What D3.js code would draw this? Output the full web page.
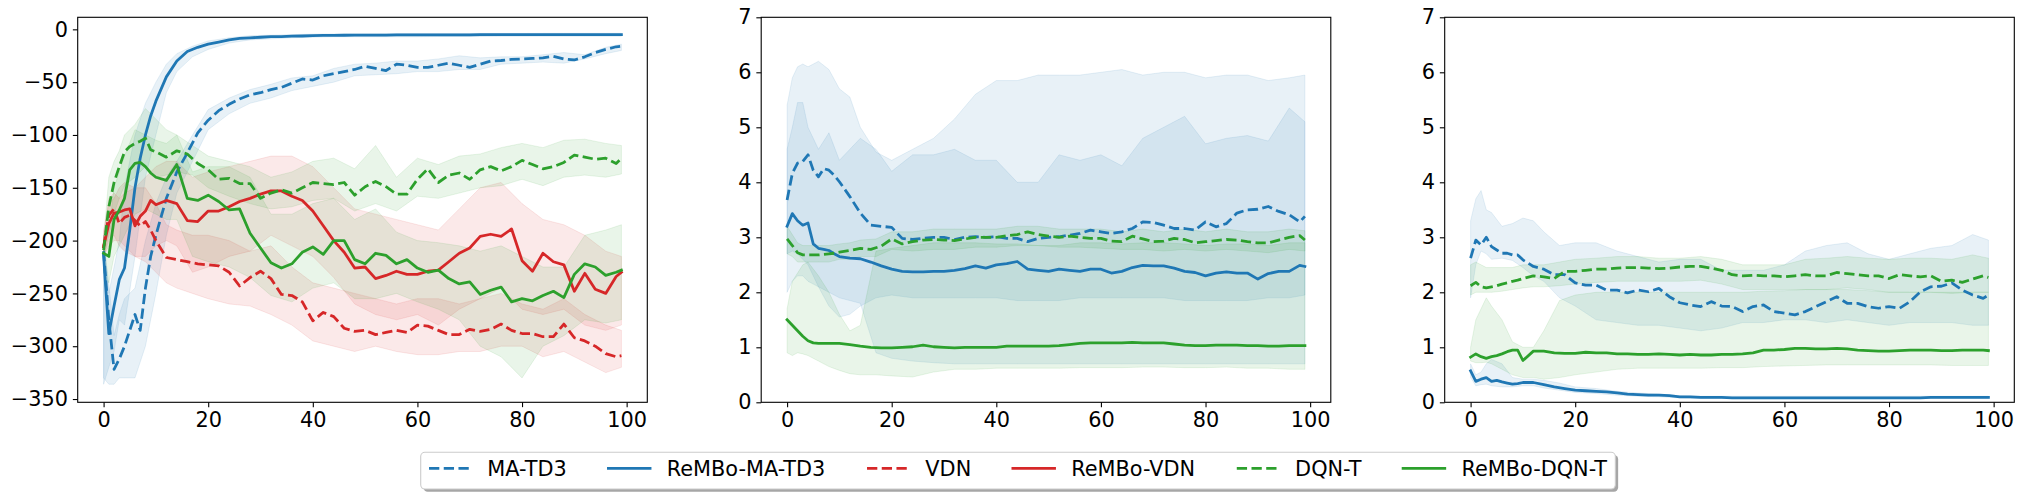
<!DOCTYPE html>
<html>
<head>
<meta charset="utf-8">
<script src="https://cdn.jsdelivr.net/npm/d3@7"></script>
<style>
  html, body { margin: 0; padding: 0; background: #fff; }
  svg text { font-family: "DejaVu Sans", sans-serif; }
</style>
</head>
<body>
<div id="vis"></div>
<script>
// ---- data ----
var seriesNames = ["MA-TD3", "ReMBo-MA-TD3", "VDN", "ReMBo-VDN", "DQN-T", "ReMBo-DQN-T"];

// training steps where the mean curves and the bands were read
var lineSteps = [0,1,2,3,4,5,6,7,8,9,10,
  12,14,16,18,20, 22,24,26,28,30, 32,34,36,38,40, 42,44,46,48,50,
  52,54,56,58,60, 62,64,66,68,70, 72,74,76,78,80, 82,84,86,88,90,
  92,94,96,98, 99];
var bandSteps = [0,1,2,3,4, 6,8,10,12,14, 17, 20,24,28,32,36, 40,44,48,52,56,
  60,64,68,72,76, 80,84,88,92,96, 99];

var xTicks = [0, 20, 40, 60, 80, 100];
var rewardTicks = [-350, -300, -250, -200, -150, -100, -50, 0];
var costTicks = [0, 1, 2, 3, 4, 5, 6, 7];

// panel 1 (reward)
var p1MaTd3 = [-210,-275,-322,-312,-300,-285,-270,-285,-245,-215,-195,
  -160,-135,-117,-98,-86, -77,-71,-66,-62,-60, -57,-55,-51,-47,-48, -44,-42,-40,-38,-35,
  -37,-39,-33,-34,-36, -36,-34,-32,-34,-36, -33,-30,-29.5,-28.5,-28, -27.5,-27,-25.5,-28,-29,
  -26,-22,-19,-16.5, -16];
var p1RmMaTd3 = [-214,-288,-262,-237,-226,-190,-150,-122,-100,-82,-68,
  -45,-30,-21,-17,-14, -12,-10,-8.5,-8,-7.5, -7,-6.8,-6.5,-6.3,-6, -5.8,-5.7,-5.6,-5.5,-5.5,
  -5.4,-5.4,-5.3,-5.3,-5.3, -5.2,-5.2,-5.2,-5.2,-5.2, -5.1,-5.1,-5.1,-5.1,-5.1, -5.1,-5,-5,-5,-5,
  -5,-5,-5,-5, -5];
var p1Vdn = [-206,-176,-170,-184,-178,-176,-181,-186,-182,-190,-200,
  -216,-218,-220,-222,-223, -224,-230,-243,-235,-229, -236,-251,-252,-258,-276, -268,-272,-283,-286,-285,
  -289,-287,-285,-287,-280, -281,-285,-289,-289,-284, -286,-284,-279,-285,-288, -288,-291,-291,-279,-292,
  -295,-300,-307,-310, -309];
var p1RmVdn = [-206,-184,-174,-173,-171,-170,-186,-177,-172,-162,-166,
  -162,-165,-181,-182,-172, -172,-168,-163,-160,-156, -153,-153,-158,-162,-172, -186,-200,-211,-226,-225,
  -236,-233,-229,-232,-232, -229,-228,-220,-212,-207, -196,-194,-196,-189,-219, -229,-212,-220,-223,-248,
  -231,-246,-250,-234, -230];
var p1Dqn = [-209,-168,-145,-130,-116,-111,-108,-106,-103,-114,-116,
  -121,-115,-118,-127,-133, -142,-141,-146,-146,-160, -155,-152,-155,-150,-145, -146,-147,-145,-157,-149,
  -144,-149,-156,-156,-142, -132,-145,-138,-136,-142, -133,-130,-134,-130,-124, -128,-132,-130,-126,-119,
  -121,-123,-122,-127, -122];
var p1RmDqn = [-212,-215,-180,-171,-160,-133,-127,-126,-130,-136,-140,
  -143,-128,-160,-162,-157, -163,-171,-170,-193,-207, -221,-226,-222,-211,-206, -213,-200,-200,-218,-222,
  -212,-214,-222,-218,-226, -230,-228,-236,-241,-239, -251,-247,-244,-258,-255, -257,-252,-248,-254,-232,
  -222,-225,-233,-230, -228];

var p1MaTd3Lo = [-330,-336,-336,-330,-330, -330,-300,-250,-195,-155, -125, -95,-80,-70,-65,-58, -54,-50,-44,-43,-42,
  -40,-40,-38,-38,-33, -32,-31,-32,-28,-23, -20];
var p1MaTd3Hi = [-200,-240,-290,-270,-255, -245,-200,-165,-140,-125, -100, -76,-65,-57,-52,-46, -44,-37,-33,-32,-30,
  -30,-28,-25,-27,-26, -26,-24,-22,-24,-17, -14];
var p1RmMaTd3Lo = [-336,-320,-305,-275,-280, -215,-140,-100,-60,-40, -26, -19,-13,-10,-9,-8, -7.5,-7,-7,-7,-7,
  -7,-6.8,-6.8,-6.8,-6.6, -6.6,-6.5,-6.5,-6.5,-6.5, -6.5];
var p1RmMaTd3Hi = [-195,-250,-225,-200,-150, -100,-70,-50,-33,-23, -16, -11,-8,-6,-5.5,-5, -4.5,-4.3,-4.2,-4.1,-4,
  -4,-4,-4,-3.9,-3.9, -3.9,-3.8,-3.8,-3.8,-3.8, -3.8];
var p1VdnLo = [-215,-200,-195,-205,-210, -215,-220,-230,-240,-245, -250, -255,-260,-262,-270,-280, -295,-300,-305,-300,-305,
  -308,-308,-305,-305,-300, -300,-310,-305,-315,-325, -320];
var p1VdnHi = [-195,-160,-155,-160,-155, -150,-150,-165,-185,-190, -195, -195,-200,-210,-205,-225, -240,-245,-250,-255,-260,
  -255,-255,-260,-255,-250, -260,-265,-255,-270,-280, -285];
var p1RmVdnLo = [-215,-205,-200,-200,-205, -215,-215,-205,-200,-205, -230, -225,-215,-210,-195,-205, -215,-235,-260,-270,-275,
  -270,-280,-265,-255,-245, -265,-270,-265,-280,-285, -280];
var p1RmVdnHi = [-190,-165,-160,-150,-145, -150,-140,-130,-125,-125, -140, -135,-130,-125,-120,-120, -130,-150,-170,-175,-180,
  -185,-190,-170,-150,-145, -165,-180,-185,-195,-210, -215];
var p1DqnLo = [-215,-195,-175,-160,-148, -140,-130,-140,-138,-135, -138, -150,-158,-165,-170,-168, -162,-160,-172,-165,-172,
  -158,-160,-155,-150,-148, -142,-148,-140,-138,-140, -137];
var p1DqnHi = [-200,-140,-125,-115,-100, -90,-75,-85,-95,-100, -110, -120,-125,-130,-140,-135, -125,-122,-132,-110,-140,
  -122,-128,-120,-118,-112, -108,-112,-105,-104,-108, -110];
var p1RmDqnLo = [-230,-240,-215,-205,-195, -175,-170,-175,-180,-180, -215, -220,-225,-235,-252,-258, -245,-240,-255,-255,-250,
  -258,-265,-275,-300,-310, -330,-300,-290,-275,-278, -275];
var p1RmDqnHi = [-195,-190,-150,-135,-120, -95,-100,-105,-108,-100, -135, -130,-130,-140,-175,-175, -165,-160,-180,-170,-192,
  -200,-202,-205,-210,-205, -215,-225,-225,-195,-190, -185];

// panel 2
var p2MaTd3 = [3.68,4.16,4.35,4.38,4.5,4.22,4.1,4.25,4.22,4.13,4.01,
  3.74,3.44,3.22,3.2,3.18, 2.98,2.96,2.98,3.0,3.0, 2.96,3.0,3.01,3.0,3.01, 2.98,2.98,2.92,2.98,3.0,
  3.01,3.04,3.07,3.13,3.1, 3.07,3.1,3.16,3.28,3.27, 3.22,3.16,3.16,3.13,3.28, 3.19,3.25,3.44,3.5,3.51,
  3.56,3.47,3.41,3.28, 3.38];
var p2RmMaTd3 = [3.2,3.43,3.3,3.22,3.26,2.88,2.8,2.78,2.76,2.7,2.65,
  2.62,2.61,2.55,2.48,2.42, 2.38,2.37,2.37,2.38,2.38, 2.4,2.43,2.48,2.44,2.5, 2.52,2.56,2.42,2.4,2.38,
  2.42,2.4,2.38,2.42,2.42, 2.35,2.38,2.45,2.49,2.48, 2.48,2.44,2.38,2.36,2.3, 2.35,2.37,2.35,2.35,2.24,
  2.34,2.38,2.38,2.49, 2.47];
var p2Dqn = [2.97,2.85,2.72,2.68,2.68,2.68,2.68,2.69,2.7,2.71,2.73,
  2.76,2.8,2.78,2.84,2.97, 2.88,2.92,2.95,2.96,2.95, 2.94,2.97,3.0,3.0,3.0, 3.03,3.05,3.1,3.05,3.02,
  3.0,3.02,3.0,2.98,2.98, 2.93,2.92,3.02,2.97,2.92, 2.93,2.98,2.96,2.9,2.92, 2.94,2.96,2.95,2.92,2.9,
  2.9,2.95,3.0,3.03, 2.95];
var p2RmDqn = [1.5,1.4,1.3,1.2,1.12,1.08,1.07,1.07,1.07,1.07,1.07,
  1.05,1.02,1.0,0.99,0.99, 1.0,1.01,1.04,1.01,1.0, 0.99,1.0,1.0,1.0,1.0, 1.02,1.02,1.02,1.02,1.02,
  1.03,1.05,1.07,1.08,1.08, 1.08,1.08,1.09,1.08,1.08, 1.08,1.06,1.04,1.03,1.03, 1.04,1.04,1.04,1.03,1.03,
  1.02,1.02,1.03,1.03, 1.03];

var p2MaTd3Hi = [5.4,5.9,6.1,6.15,6.1, 6.2,6.05,5.7,5.55,5.0, 4.55, 4.4,4.6,4.8,5.15,5.6, 5.85,5.85,5.95,5.95,5.95,
  6.0,6.05,5.95,6.0,6.0, 5.9,5.95,5.95,5.85,5.9, 5.95];
var p2MaTd3Lo = [2.7,2.75,2.7,2.6,2.5, 2.1,1.75,1.55,1.6,1.75, 1.9, 1.95,1.9,1.9,1.9,1.9, 1.9,1.85,1.85,1.85,1.9,
  1.9,1.9,1.9,1.9,1.85, 1.85,1.85,1.85,1.9,1.9, 1.95];
var p2RmMaTd3Hi = [4.6,5.0,5.45,5.45,5.0, 4.6,4.9,4.4,4.6,4.8, 4.6, 4.2,4.5,4.5,4.6,4.4, 4.4,4.0,4.0,4.5,4.4,
  4.5,4.3,4.8,5.0,5.2, 4.7,4.8,4.85,4.75,5.35, 5.1];
var p2RmMaTd3Lo = [2.0,2.2,2.3,2.3,2.2, 2.1,2.0,1.9,1.85,1.8, 0.9, 0.8,0.75,0.72,0.7,0.7, 0.7,0.7,0.7,0.7,0.7,
  0.7,0.7,0.7,0.7,0.7, 0.7,0.7,0.7,0.7,0.7, 0.7];
var p2DqnHi = [3.2,3.05,2.9,2.85,2.85, 2.85,2.85,2.88,2.9,2.95, 2.97, 3.1,3.1,3.15,3.15,3.15, 3.15,3.2,3.2,3.15,3.15,
  3.15,3.1,3.15,3.1,3.15, 3.1,3.15,3.1,3.1,3.15, 3.12];
var p2DqnLo = [2.7,2.65,2.55,2.55,2.55, 2.55,2.55,2.6,2.6,2.65, 2.65, 2.78,2.75,2.78,2.78,2.82, 2.82,2.85,2.85,2.82,2.82,
  2.8,2.78,2.78,2.75,2.78, 2.75,2.78,2.75,2.72,2.78, 2.75];
var p2RmDqnHi = [1.7,2.2,2.35,2.5,2.55, 2.3,2.0,1.6,1.3,1.4, 2.75, 2.8,2.85,2.9,2.9,2.9, 2.88,2.88,2.85,2.85,2.9,
  2.9,2.88,2.9,2.9,2.88, 2.85,2.88,2.88,2.85,2.9, 2.9];
var p2RmDqnLo = [0.9,0.85,0.9,0.88,0.85, 0.75,0.65,0.58,0.52,0.5, 0.5, 0.48,0.46,0.55,0.6,0.6, 0.62,0.62,0.62,0.62,0.63,
  0.63,0.63,0.64,0.64,0.63, 0.63,0.64,0.62,0.62,0.6, 0.6];

// panel 3
var p3MaTd3 = [2.62,2.95,2.86,3.0,2.83,2.77,2.71,2.71,2.68,2.68,2.59,
  2.47,2.42,2.32,2.32,2.17, 2.13,2.13,2.04,2.04,1.99, 2.04,2.01,2.07,1.92,1.81, 1.77,1.74,1.83,1.75,1.74,
  1.65,1.74,1.77,1.65,1.62, 1.59,1.65,1.74,1.83,1.92, 1.8,1.8,1.74,1.71,1.74, 1.71,1.83,2.01,2.1,2.11,
  2.17,2.04,1.95,1.89, 1.95];
var p3RmMaTd3 = [0.57,0.38,0.42,0.45,0.38,0.4,0.37,0.35,0.33,0.34,0.36,
  0.36,0.32,0.28,0.25,0.22, 0.21,0.2,0.19,0.17,0.15, 0.14,0.13,0.13,0.12,0.1, 0.1,0.09,0.09,0.09,0.08,
  0.08,0.08,0.08,0.08,0.08, 0.08,0.08,0.08,0.08,0.08, 0.08,0.08,0.08,0.08,0.08, 0.08,0.08,0.08,0.09,0.09,
  0.09,0.09,0.09,0.09, 0.09];
var p3Dqn = [2.12,2.18,2.1,2.08,2.1,2.12,2.15,2.17,2.2,2.22,2.25,
  2.3,2.28,2.25,2.38,2.38, 2.4,2.42,2.42,2.44,2.45, 2.45,2.44,2.43,2.44,2.46, 2.47,2.47,2.44,2.4,2.32,
  2.3,2.31,2.3,2.3,2.28, 2.3,2.32,2.3,2.3,2.36, 2.34,2.32,2.3,2.3,2.25, 2.32,2.3,2.28,2.3,2.2,
  2.22,2.18,2.24,2.3, 2.27];
var p3RmDqn = [0.82,0.88,0.83,0.8,0.83,0.85,0.88,0.92,0.95,0.95,0.76,
  0.93,0.93,0.9,0.89,0.89, 0.91,0.9,0.9,0.88,0.88, 0.87,0.87,0.88,0.87,0.86, 0.87,0.86,0.86,0.87,0.87,
  0.88,0.9,0.95,0.95,0.96, 0.98,0.98,0.97,0.97,0.98, 0.97,0.95,0.94,0.93,0.93, 0.94,0.95,0.95,0.95,0.94,
  0.94,0.95,0.95,0.95, 0.94];

var p3MaTd3Hi = [3.3,3.7,3.85,3.5,3.45, 3.2,3.25,3.35,3.3,3.1, 2.85, 2.9,2.9,2.75,2.65,2.55, 2.6,2.6,2.4,2.4,2.4,
  2.5,2.75,2.85,2.9,2.7, 2.6,2.7,2.8,2.85,3.05, 2.95];
var p3MaTd3Lo = [1.9,2.5,2.75,2.7,2.6, 2.62,2.58,2.45,2.3,2.2, 1.9, 1.75,1.5,1.45,1.4,1.4, 1.35,1.3,1.35,1.45,1.45,
  1.5,1.5,1.45,1.5,1.45, 1.4,1.45,1.45,1.45,1.4, 1.4];
var p3RmMaTd3Hi = [0.7,0.5,0.55,0.7,0.78, 0.7,0.45,0.42,0.42,0.4, 0.35, 0.28,0.25,0.2,0.17,0.15, 0.12,0.11,0.11,0.11,0.11,
  0.11,0.11,0.11,0.11,0.11, 0.11,0.11,0.11,0.11,0.11, 0.11];
var p3RmMaTd3Lo = [0.45,0.3,0.32,0.33,0.3, 0.28,0.28,0.3,0.3,0.26, 0.22, 0.18,0.16,0.13,0.11,0.1, 0.08,0.07,0.07,0.07,0.07,
  0.07,0.07,0.07,0.07,0.07, 0.07,0.07,0.07,0.07,0.07, 0.07];
var p3DqnHi = [2.5,2.55,2.5,2.45,2.45, 2.45,2.45,2.5,2.5,2.5, 2.55, 2.6,2.62,2.65,2.65,2.62, 2.62,2.65,2.6,2.5,2.5,
  2.5,2.6,2.62,2.65,2.62, 2.6,2.62,2.62,2.6,2.68, 2.62];
var p3DqnLo = [1.95,2.0,2.0,2.0,2.0, 2.02,2.05,2.08,2.1,2.1, 2.12, 2.15,2.18,2.2,2.2,2.2, 2.2,2.22,2.15,2.05,2.05,
  2.05,2.05,2.05,2.08,2.05, 2.0,2.0,2.0,1.98,2.0, 2.0];
var p3RmDqnHi = [1.0,1.5,1.7,1.9,1.75, 1.5,1.1,1.0,1.0,1.3, 1.85, 1.95,2.0,2.0,2.0,2.0, 2.0,2.0,2.0,2.0,2.02,
  2.03,2.05,2.05,2.05,2.03, 2.0,2.0,2.0,2.0,2.0, 2.0];
var p3RmDqnLo = [0.75,0.72,0.72,0.73,0.7, 0.6,0.5,0.45,0.45,0.42, 0.45, 0.5,0.55,0.6,0.62,0.62, 0.62,0.62,0.63,0.63,0.65,
  0.66,0.67,0.68,0.68,0.68, 0.68,0.68,0.68,0.67,0.67, 0.67];

// ---- drawing ----
var width = 2024, height = 498;
var fontSize = 20.83;      // 15pt
var lw = 2.78;             // 2pt
var dash = [10.28, 4.44];
var blue = "#1f77b4", red = "#d62728", green = "#2ca02c";
var styles = {
  "MA-TD3":       { color: blue,  dashed: true },
  "ReMBo-MA-TD3": { color: blue,  dashed: false },
  "VDN":          { color: red,   dashed: true },
  "ReMBo-VDN":    { color: red,   dashed: false },
  "DQN-T":        { color: green, dashed: true },
  "ReMBo-DQN-T":  { color: green, dashed: false }
};

var axLefts = [77.7, 761.2, 1444.7], axTop = 17.3, axW = 569.6, axH = 385;
var xDomain = [-4.95, 103.95];

var panels = [
  { yDomain: [-353.1, 11.4], yTicks: rewardTicks, series: [
    { name: "MA-TD3", mean: p1MaTd3, lo: p1MaTd3Lo, hi: p1MaTd3Hi },
    { name: "ReMBo-MA-TD3", mean: p1RmMaTd3, lo: p1RmMaTd3Lo, hi: p1RmMaTd3Hi },
    { name: "VDN", mean: p1Vdn, lo: p1VdnLo, hi: p1VdnHi },
    { name: "ReMBo-VDN", mean: p1RmVdn, lo: p1RmVdnLo, hi: p1RmVdnHi },
    { name: "DQN-T", mean: p1Dqn, lo: p1DqnLo, hi: p1DqnHi },
    { name: "ReMBo-DQN-T", mean: p1RmDqn, lo: p1RmDqnLo, hi: p1RmDqnHi }
  ]},
  { yDomain: [0, 7], yTicks: costTicks, series: [
    { name: "MA-TD3", mean: p2MaTd3, lo: p2MaTd3Lo, hi: p2MaTd3Hi },
    { name: "ReMBo-MA-TD3", mean: p2RmMaTd3, lo: p2RmMaTd3Lo, hi: p2RmMaTd3Hi },
    { name: "DQN-T", mean: p2Dqn, lo: p2DqnLo, hi: p2DqnHi },
    { name: "ReMBo-DQN-T", mean: p2RmDqn, lo: p2RmDqnLo, hi: p2RmDqnHi }
  ]},
  { yDomain: [0, 7], yTicks: costTicks, series: [
    { name: "MA-TD3", mean: p3MaTd3, lo: p3MaTd3Lo, hi: p3MaTd3Hi },
    { name: "ReMBo-MA-TD3", mean: p3RmMaTd3, lo: p3RmMaTd3Lo, hi: p3RmMaTd3Hi },
    { name: "DQN-T", mean: p3Dqn, lo: p3DqnLo, hi: p3DqnHi },
    { name: "ReMBo-DQN-T", mean: p3RmDqn, lo: p3RmDqnLo, hi: p3RmDqnHi }
  ]}
];

var svg = d3.select("#vis").append("svg")
    .attr("width", width)
    .attr("height", height);

panels.forEach(function (p, i) {
  var g = svg.append("g")
      .attr("transform", "translate(" + axLefts[i] + "," + axTop + ")");

  var x = d3.scaleLinear().domain(xDomain).range([0, axW]);
  var y = d3.scaleLinear().domain(p.yDomain).range([axH, 0]);

  // shaded bands first, lines on top (like matplotlib zorder)
  var area = d3.area()
      .x(function (d) { return x(d[0]); })
      .y0(function (d) { return y(d[1]); })
      .y1(function (d) { return y(d[2]); });

  p.series.forEach(function (s) {
    g.append("path")
        .datum(d3.zip(bandSteps, s.lo, s.hi))
        .attr("d", area)
        .attr("fill", styles[s.name].color)
        .attr("fill-opacity", 0.1)
        .attr("stroke", styles[s.name].color)
        .attr("stroke-opacity", 0.1)
        .attr("stroke-width", 1);
  });

  var line = d3.line()
      .x(function (d) { return x(d[0]); })
      .y(function (d) { return y(d[1]); });

  p.series.forEach(function (s) {
    var st = styles[s.name];
    g.append("path")
        .datum(d3.zip(lineSteps, s.mean))
        .attr("d", line)
        .attr("fill", "none")
        .attr("stroke", st.color)
        .attr("stroke-width", lw)
        .attr("stroke-linejoin", "round")
        .attr("stroke-linecap", st.dashed ? "butt" : "square")
        .attr("stroke-dasharray", st.dashed ? dash.join(",") : null);
  });

  // axes
  var xAxis = g.append("g")
      .attr("transform", "translate(0," + axH + ")")
      .call(d3.axisBottom(x).tickValues(xTicks).tickSize(4.86).tickPadding(4.86));
  var yAxis = g.append("g")
      .call(d3.axisLeft(y).tickValues(p.yTicks).tickFormat(d3.format("d"))
        .tickSize(4.86).tickPadding(4.86));

  [xAxis, yAxis].forEach(function (a) {
    a.select(".domain").remove();
    a.selectAll("line").attr("stroke", "#000").attr("stroke-width", 1.1);
    a.selectAll("text")
        .attr("fill", "#000")
        .style("font-family", "'DejaVu Sans', sans-serif")
        .style("font-size", fontSize + "px");
  });

  g.append("rect")
      .attr("width", axW)
      .attr("height", axH)
      .attr("fill", "none")
      .attr("stroke", "#000")
      .attr("stroke-width", 1.1);
});

// ---- legend ----
var lgX = 420.7, lgY = 452.3, lgH = 36.7;
var pad = 0.4 * fontSize, handleLen = 2 * fontSize,
    handleGap = 0.8 * fontSize, colGap = 2 * fontSize;
var handleY = 468.3, textY = 475.7;

var legend = svg.append("g");
var shadow = legend.append("rect");
var frame = legend.append("rect");

var cx = lgX + pad;
seriesNames.forEach(function (name) {
  var st = styles[name];
  legend.append("line")
      .attr("x1", cx).attr("x2", cx + handleLen)
      .attr("y1", handleY).attr("y2", handleY)
      .attr("stroke", st.color)
      .attr("stroke-width", lw)
      .attr("stroke-linecap", st.dashed ? "butt" : "square")
      .attr("stroke-dasharray", st.dashed ? dash.join(",") : null);
  var t = legend.append("text")
      .attr("x", cx + handleLen + handleGap)
      .attr("y", textY)
      .style("font-size", fontSize + "px")
      .attr("fill", "#000")
      .text(name);
  cx += handleLen + handleGap + t.node().getComputedTextLength() + colGap;
});
var lgW = cx - colGap + pad - lgX;

shadow
    .attr("x", lgX + 2.78).attr("y", lgY + 2.78)
    .attr("width", lgW).attr("height", lgH)
    .attr("rx", 4.2)
    .attr("fill", "#4d4d4d")
    .attr("fill-opacity", 0.5);
frame
    .attr("x", lgX).attr("y", lgY)
    .attr("width", lgW).attr("height", lgH)
    .attr("rx", 4.2)
    .attr("fill", "#fff")
    .attr("stroke", "#cccccc")
    .attr("stroke-width", 1.1);
</script>
</body>
</html>
